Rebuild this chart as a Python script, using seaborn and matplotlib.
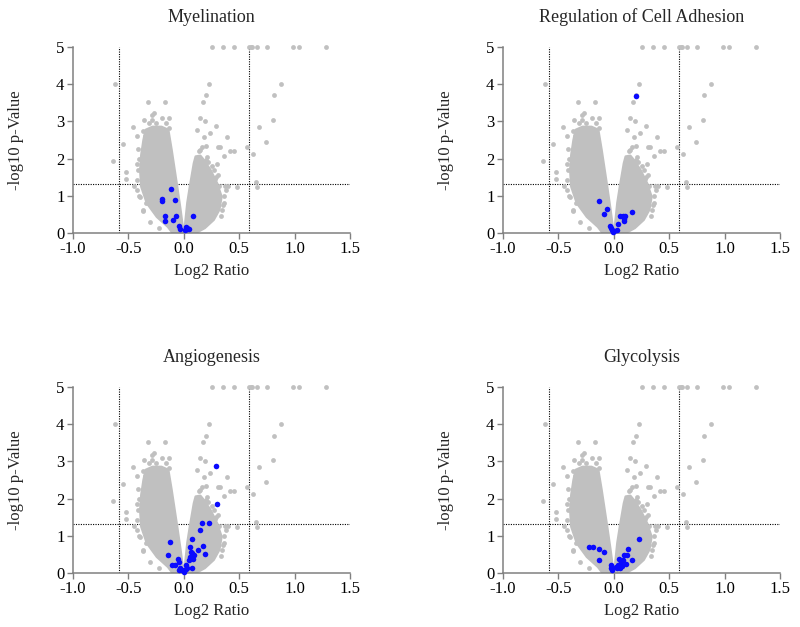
import matplotlib
matplotlib.use("Agg")
import matplotlib.pyplot as plt
import seaborn as sns
import pandas as pd

# ---------------- data ----------------
titles = ["Myelination", "Regulation of Cell Adhesion", "Angiogenesis", "Glycolysis"]
x_ticks = [-1.0, -0.5, 0.0, 0.5, 1.0, 1.5]
y_ticks = [0, 1, 2, 3, 4, 5]
fc_cut = 0.585   # log2(1.5)
p_cut = 1.301    # -log10(0.05)

# outline of the dense cloud of all proteins (log2 ratio, -log10 p)
cloud_x = [0.11, -0.10, -0.14, -0.24, -0.33, -0.38, -0.39, -0.38, -0.36, -0.34,
           -0.28, -0.20, -0.14, -0.11, -0.06, -0.03, -0.01, 0.0,
           0.013, 0.035, 0.058, 0.094, 0.11, 0.15, 0.18, 0.24, 0.30, 0.34, 0.32,
           0.27, 0.19]
cloud_y = [0.0, 0.0, 0.16, 0.43, 0.80, 1.24, 1.69, 2.10, 2.50, 2.77,
           2.85, 2.85, 2.77, 2.23, 1.24, 0.62, 0.16, 0.07,
           0.16, 0.80, 1.24, 1.87, 2.05, 2.07, 1.96, 1.69, 1.33, 0.97, 0.62,
           0.35, 0.13]

# individual (sparse) proteins outside the dense cloud
sparse_x = [0.255, 0.352, 0.457, 0.592, 0.604, 0.619, 0.664, 0.754, 0.983, 1.040, 1.280,
            0.231, 0.198, 0.177, 0.874, 0.811, 0.808, 0.147, 0.189, 0.123, 0.288, 0.234,
            0.183, 0.391, 0.204, 0.312, 0.330, 0.144, 0.418, 0.457, 0.571, 0.679, 0.742,
            0.625, 0.367, 0.304, 0.213, 0.291, 0.481, 0.403, 0.649, 0.658, 0.355, 0.316,
            -0.619, -0.640, -0.547, -0.523, -0.520, -0.454, -0.319, -0.171, -0.288, -0.267,
            -0.285, -0.358, -0.195, -0.129, -0.129, -0.421, -0.370, -0.424, -0.445, -0.370,
            -0.418, -0.40, -0.41, -0.35, -0.34, -0.40, 0.36, 0.35, 0.22, 0.27, -0.31, -0.25,
            0.20, 0.28, 0.37, -0.42, -0.41, -0.39, -0.37, -0.30, -0.22, -0.16, 0.36, 0.34,
            0.31, 0.26, 0.38, 0.14, 0.17]
sparse_y = [5.0, 5.0, 5.0, 5.0, 5.0, 5.0, 5.0, 5.0, 5.0, 5.0, 5.0,
            4.00, 3.70, 3.52, 4.00, 3.70, 3.04, 3.10, 3.02, 2.77, 2.89, 2.68,
            2.58, 2.59, 2.35, 2.32, 2.32, 2.23, 2.19, 2.19, 2.32, 2.85, 2.44,
            2.12, 2.07, 1.84, 2.05, 1.51, 1.24, 1.26, 1.36, 1.23, 0.75, 1.27,
            4.00, 1.94, 2.39, 1.63, 1.44, 2.84, 3.52, 3.52, 3.17, 3.22,
            3.04, 3.04, 3.08, 3.08, 2.82, 2.62, 2.73, 1.15, 1.26, 0.59,
            1.42, 2.00, 1.70, 2.60, 0.80, 1.00, 1.00, 0.60, 1.90, 1.70, 2.95, 2.95,
            1.95, 1.45, 1.25, 1.85, 2.25, 0.95, 0.60, 0.30, 0.12, 2.95, 0.80, 0.45,
            1.55, 1.80, 1.15, 2.20, 2.30]

# proteins of each GO term (highlighted)
blue_x = [
    [-0.117, -0.198, -0.198, -0.075, -0.165, -0.066, 0.087, -0.165, -0.093, -0.045, -0.030,
     0.018, 0.033, 0.027, 0.048, 0.012],
    [0.198, -0.129, -0.057, -0.084, 0.162, 0.057, 0.081, 0.105, 0.093, 0.093, 0.042, -0.030,
     -0.024, -0.012, 0.006, 0.027, -0.003],
    [0.291, 0.300, 0.165, 0.228, 0.150, 0.075, -0.126, 0.177, 0.129, 0.060, 0.063, 0.078,
     0.090, 0.060, 0.192, -0.144, 0.084, 0.048, -0.054, -0.039, -0.102, -0.078, 0.018, 0.078,
     -0.033, -0.018, 0.000, 0.021, 0.033, 0.006, -0.039],
    [0.225, -0.225, -0.186, -0.132, -0.090, -0.129, 0.129, 0.096, 0.120, 0.045, 0.081, 0.162,
     0.111, 0.063, 0.036, 0.024, 0.054, 0.078, -0.027, -0.021, -0.012, 0.030],
]
blue_y = [
    [1.19, 0.91, 0.85, 0.89, 0.46, 0.46, 0.45, 0.31, 0.34, 0.19, 0.09, 0.15, 0.13, 0.09,
     0.10, 0.07],
    [3.69, 0.85, 0.63, 0.51, 0.55, 0.45, 0.45, 0.45, 0.36, 0.31, 0.23, 0.19, 0.13, 0.07,
     0.04, 0.07, 0.01],
    [2.88, 1.85, 1.33, 1.33, 1.16, 0.91, 0.84, 0.73, 0.61, 0.70, 0.57, 0.54, 0.48, 0.43,
     0.50, 0.47, 0.36, 0.34, 0.38, 0.28, 0.21, 0.20, 0.21, 0.13, 0.14, 0.07, 0.01, 0.11,
     0.14, 0.05, 0.08],
    [0.90, 0.69, 0.69, 0.64, 0.55, 0.34, 0.64, 0.47, 0.48, 0.38, 0.34, 0.35, 0.23, 0.28,
     0.22, 0.16, 0.14, 0.18, 0.21, 0.12, 0.07, 0.12],
]

# ---------------- style ----------------
sns.set_style("ticks")
plt.rcParams["font.family"] = ["Liberation Serif", "DejaVu Serif"]
plt.rcParams["axes.edgecolor"] = "#808080"
plt.rcParams["xtick.color"] = "#808080"
plt.rcParams["ytick.color"] = "#808080"
plt.rcParams["xtick.labelcolor"] = "black"
plt.rcParams["ytick.labelcolor"] = "black"

GRAY = "#c0c0c0"
BLUE = "#0a0aff"

fig = plt.figure(figsize=(8.0, 6.27), dpi=100)
W, H = 0.3466, 0.2957
positions = [(0.0909, 0.6289), (0.6284, 0.6289), (0.0909, 0.0866), (0.6284, 0.0866)]

sparse_df = pd.DataFrame({"x": sparse_x, "y": sparse_y})

for i, (l, b) in enumerate(positions):
    ax = fig.add_axes([l, b, W, H])
    ax.fill(cloud_x, cloud_y, color=GRAY, lw=2.0, ec=GRAY, joinstyle="round", zorder=2)
    sns.scatterplot(data=sparse_df, x="x", y="y", ax=ax, color=GRAY, s=12,
                    linewidth=0, zorder=3, clip_on=False)
    bdf = pd.DataFrame({"x": blue_x[i], "y": blue_y[i]})
    sns.scatterplot(data=bdf, x="x", y="y", ax=ax, color=BLUE, s=16,
                    linewidth=0, zorder=4, clip_on=False)
    ax.axvline(-fc_cut, color="black", ls=(0, (1, 1.2)), lw=0.8, zorder=1)
    ax.axvline(fc_cut, color="black", ls=(0, (1, 1.2)), lw=0.8, zorder=1)
    ax.axhline(p_cut, color="black", ls=(0, (1, 1.2)), lw=0.8, zorder=1)
    ax.set_xlim(-1.0, 1.5)
    ax.set_ylim(0, 5)
    ax.set_xticks(x_ticks)
    ax.set_xticklabels([f"{t:.1f}" for t in x_ticks])
    ax.set_yticks(y_ticks)
    ax.set_yticklabels([str(t) for t in y_ticks])
    ax.tick_params(axis="both", labelsize=12, length=4, width=1.0, pad=2)
    for s in ["top", "right"]:
        ax.spines[s].set_visible(False)
    for s in ["left", "bottom"]:
        ax.spines[s].set_linewidth(1.1)
    ax.set_xlabel("Log2 Ratio", fontsize=12, labelpad=4)
    ax.set_ylabel("-log10 p-Value", fontsize=12, labelpad=23)
    ax.set_title(titles[i], fontsize=13, pad=18)

fig.savefig("out.png", dpi=100)
